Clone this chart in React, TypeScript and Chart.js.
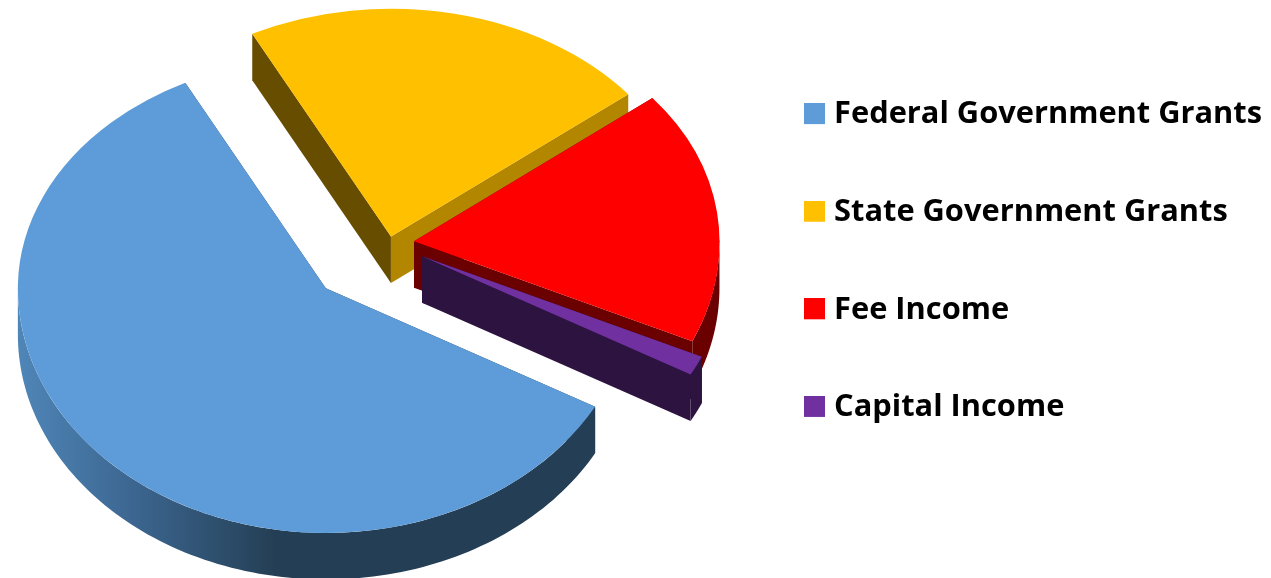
import React, { useEffect, useRef } from "react";
import { Chart, registerables } from "chart.js";

Chart.register(...registerables);

const categories = ["Federal Government Grants", "State Government Grants", "Fee Income", "Capital Income"];
const shares = [59.4, 21.8, 17.5, 1.3];
const topColors = ["#5d9cd8", "#ffc000", "#ff0000", "#7030a0"];
const startWallColors = ["#243f55", "#664d00", "#6b0000", "#2d1340"];
const endWallColors = ["#243f55", "#b38600", "#6b0000", "#2d1340"];
const outerWallColors = ["#243f55", "#b38600", "#6b0000", "#2d1340"];
const explode = [88, 9.4, 25.2, 37];
const nudgeX = [0, 0, 0, 0];
const nudgeY = [-3.5, 0.5, 0.5, 0];
const sliceScale = [1.003, 0.99, 0.995, 1];
const drawOrder = [1, 2, 3, 0];

const PIE_CENTER = { x: 389, y: 243 };
const RADIUS = 307;
const K_FAR = 0.75;
const K_NEAR = 0.795;
const DEPTH = 46.5;

function swatch(color: string) {
  const c = document.createElement("canvas");
  c.width = 21;
  c.height = 23;
  const g = c.getContext("2d")!;
  g.fillStyle = color;
  g.fillRect(0, 0, 21, 21);
  return c;
}

const pie3d = {
  id: "pie3d",
  beforeDatasetDraw(chart: any) {
    const ctx: CanvasRenderingContext2D = chart.ctx;
    const arcs = chart.getDatasetMeta(0).data;
    drawOrder.forEach((i) => {
      const arc = arcs[i];
      const half = (arc.startAngle + arc.endAngle) / 2;
      const ky = Math.sin(half) > 0 ? K_NEAR : K_FAR;
      const ax = PIE_CENTER.x + Math.cos(half) * explode[i] + nudgeX[i];
      const ay = PIE_CENTER.y + Math.sin(half) * explode[i] * ky + nudgeY[i];
      const sc = sliceScale[i];
      const r = arc.outerRadius * sc;
      const pt = (t: number, rho: number, dz = 0) => {
        const s = Math.sin(t);
        return [ax + rho * Math.cos(t), ay + rho * s * (s > 0 ? K_NEAR : K_FAR) + dz];
      };
      const wall = (t: number, color: string) => {
        const a = pt(t, 0);
        const b = pt(t, r);
        ctx.fillStyle = color;
        ctx.beginPath();
        ctx.moveTo(a[0], a[1]);
        ctx.lineTo(b[0], b[1]);
        ctx.lineTo(b[0], b[1] + DEPTH);
        ctx.lineTo(a[0], a[1] + DEPTH);
        ctx.closePath();
        ctx.fill();
      };
      wall(arc.startAngle, startWallColors[i]);
      wall(arc.endAngle, endWallColors[i]);

      // outer rim: only the part of the arc that faces the viewer
      const steps = 160;
      const front: number[][] = [];
      for (let s = 0; s <= steps; s++) {
        const t = arc.startAngle + ((arc.endAngle - arc.startAngle) * s) / steps;
        if (Math.sin(t) >= -0.001) front.push([t]);
      }
      if (front.length > 1) {
        let fill: any = outerWallColors[i];
        if (i === 0) {
          const g = ctx.createLinearGradient(18, 0, 275, 0);
          g.addColorStop(0, "#4f86b8");
          g.addColorStop(0.45, "#3c6690");
          g.addColorStop(1, "#243f55");
          fill = g;
        }
        ctx.fillStyle = fill;
        ctx.beginPath();
        front.forEach(([t], n) => {
          const p = pt(t, r);
          if (n === 0) ctx.moveTo(p[0], p[1]);
          else ctx.lineTo(p[0], p[1]);
        });
        front.slice().reverse().forEach(([t]) => {
          const p = pt(t, r, DEPTH);
          ctx.lineTo(p[0], p[1]);
        });
        ctx.closePath();
        ctx.fill();
      }

      // top face: the library's own arc, drawn once per half with its own foreshortening
      [K_FAR, K_NEAR].forEach((k) => {
        ctx.save();
        ctx.beginPath();
        if (k === K_FAR) ctx.rect(0, 0, chart.width, ay + 0.5);
        else ctx.rect(0, ay - 0.5, chart.width, chart.height);
        ctx.clip();
        ctx.translate(ax, ay);
        ctx.scale(sc, k * sc);
        ctx.translate(-arc.x, -arc.y);
        arc.draw(ctx);
        ctx.restore();
      });
    });
    return false;
  },
};

export default function App() {
  const ref = useRef<HTMLCanvasElement>(null);
  useEffect(() => {
    const chart = new Chart(ref.current!, {
      type: "pie",
      data: {
        labels: categories,
        datasets: [
          {
            data: shares,
            backgroundColor: topColors,
            borderWidth: 0,
          },
        ],
      },
      options: {
        responsive: false,
        animation: false,
        rotation: 119,
        radius: RADIUS,
        layout: { padding: { right: -1, bottom: 56 } },
        plugins: {
          tooltip: { enabled: false },
          legend: {
            position: "right",
            labels: {
              color: "#000",
              usePointStyle: true,
              pointStyleWidth: 8.5,
              padding: 66.8,
              font: { family: "'Open Sans'", weight: "bold", size: 30.8 },
              generateLabels: () =>
                categories.map((text, i) => ({
                  text,
                  fillStyle: topColors[i],
                  strokeStyle: topColors[i],
                  fontColor: "#000",
                  lineWidth: 0,
                  pointStyle: swatch(topColors[i]),
                  hidden: false,
                  index: i,
                })),
            },
          },
        },
      } as any,
      plugins: [pie3d as any],
    });
    return () => chart.destroy();
  }, []);
  return (
    <div style={{ position: "fixed", left: 0, top: 0, width: 1271, height: 578, background: "#fff" }}>
      <canvas ref={ref} width={1271} height={578} style={{ display: "block" }} />
    </div>
  );
}
